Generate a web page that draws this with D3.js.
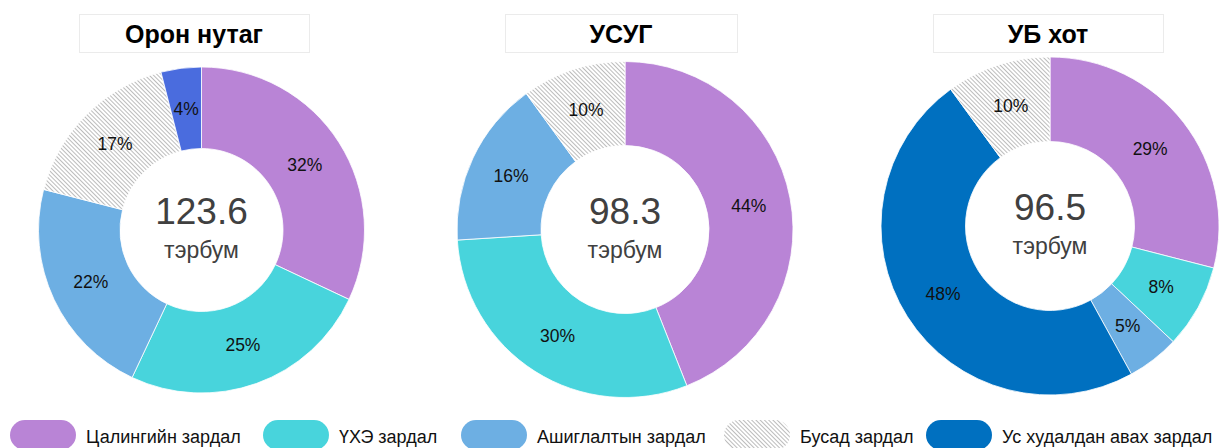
<!DOCTYPE html>
<html>
<head>
<meta charset="utf-8">
<script src="https://cdn.jsdelivr.net/npm/d3@7"></script>
<style>
  html, body { margin: 0; padding: 0; background: #fff; }
  svg { display: block; font-family: "Liberation Sans", Arial, sans-serif; }
</style>
</head>
<body>
<svg id="chart" width="1223" height="448"></svg>
<script>
// ---- Data ----
const categories = ["Цалингийн зардал", "ҮХЭ зардал", "Ашиглалтын зардал", "Бусад зардал", "Ус худалдан авах зардал"];
const regions = ["Орон нутаг", "УСУГ", "УБ хот"];
const totals = ["123.6", "98.3", "96.5"];
const unitLabel = "тэрбум";
// slice order (category index) and values (%) per region, clockwise from 12 o'clock
const orderOronNutag = [0, 1, 2, 3, 4];
const valuesOronNutag = [32, 25, 22, 17, 4];
const orderUSUG = [0, 1, 2, 3];
const valuesUSUG = [44, 30, 16, 10];
const orderUB = [0, 1, 2, 4, 3];
const valuesUB = [29, 8, 5, 48, 10];

// ---- Styles ----
const catColors = ["#B984D6", "#48D4DC", "#6DAFE3", "url(#hatch)", "#0070C0"];
const altWaterColor = "#4A6CDE"; // shade used in the first chart

const pies = [
  { title: regions[0], total: totals[0], order: orderOronNutag, values: valuesOronNutag, cx: 201.5, cy: 230, r: 163, box: [79, 309], water: altWaterColor },
  { title: regions[1], total: totals[1], order: orderUSUG, values: valuesUSUG, cx: 625, cy: 229.5, r: 168, box: [505, 737], water: catColors[4] },
  { title: regions[2], total: totals[2], order: orderUB, values: valuesUB, cx: 1050, cy: 226, r: 169, box: [933, 1163], water: catColors[4] }
];

const svg = d3.select("#chart");
const defs = svg.append("defs");
const pat = defs.append("pattern")
  .attr("id", "hatch").attr("patternUnits", "userSpaceOnUse")
  .attr("width", 3).attr("height", 3)
  .attr("patternTransform", "rotate(-45)");
pat.append("rect").attr("width", 3).attr("height", 3).attr("fill", "#ffffff");
pat.append("line").attr("x1", 0).attr("y1", 0).attr("x2", 0).attr("y2", 3)
  .attr("stroke", "#858585").attr("stroke-width", 1.1);

const pieGen = d3.pie().sort(null).value(d => d.v);

pies.forEach(p => {
  // title box
  svg.append("rect")
    .attr("x", p.box[0] + 0.5).attr("y", 14.5)
    .attr("width", p.box[1] - p.box[0]).attr("height", 38)
    .attr("fill", "#fff").attr("stroke", "#ebebeb").attr("stroke-width", 1);
  svg.append("text")
    .attr("x", (p.box[0] + p.box[1]) / 2).attr("y", 43)
    .attr("text-anchor", "middle")
    .attr("font-size", 25).attr("font-weight", "bold").attr("fill", "#000")
    .text(p.title);

  const data = p.order.map((c, i) => ({ c, v: p.values[i] }));
  const arcs = pieGen(data);
  const arc = d3.arc().innerRadius(p.r * 0.5).outerRadius(p.r);
  const g = svg.append("g").attr("transform", `translate(${p.cx},${p.cy})`);
  g.selectAll("path").data(arcs).enter().append("path")
    .attr("d", arc)
    .attr("fill", d => d.data.c === 4 ? p.water : catColors[d.data.c])
    .attr("stroke", "#fff").attr("stroke-width", 0.8);
  g.selectAll("text.pct").data(arcs).enter().append("text")
    .attr("class", "pct")
    .attr("transform", d => `translate(${arc.centroid(d)})`)
    .attr("text-anchor", "middle").attr("dy", "0.36em")
    .attr("font-size", 17.5).attr("fill", "#111")
    .text(d => d.data.v + "%");
  g.append("text").attr("y", -6).attr("text-anchor", "middle")
    .attr("font-size", 37).attr("fill", "#404040").text(p.total);
  g.append("text").attr("y", 28).attr("text-anchor", "middle")
    .attr("font-size", 23).attr("fill", "#404040").text(unitLabel);
});

// ---- Legend ----
const legendX = [10, 263, 461, 724, 926];
const lg = svg.append("g");
categories.forEach((c, i) => {
  lg.append("rect").attr("x", legendX[i]).attr("y", 420)
    .attr("width", 66).attr("height", 30).attr("rx", 15)
    .attr("fill", catColors[i]);
  lg.append("text").attr("x", legendX[i] + 76).attr("y", 443)
    .attr("font-size", 18).attr("fill", "#111").text(c);
});
</script>
</body>
</html>
